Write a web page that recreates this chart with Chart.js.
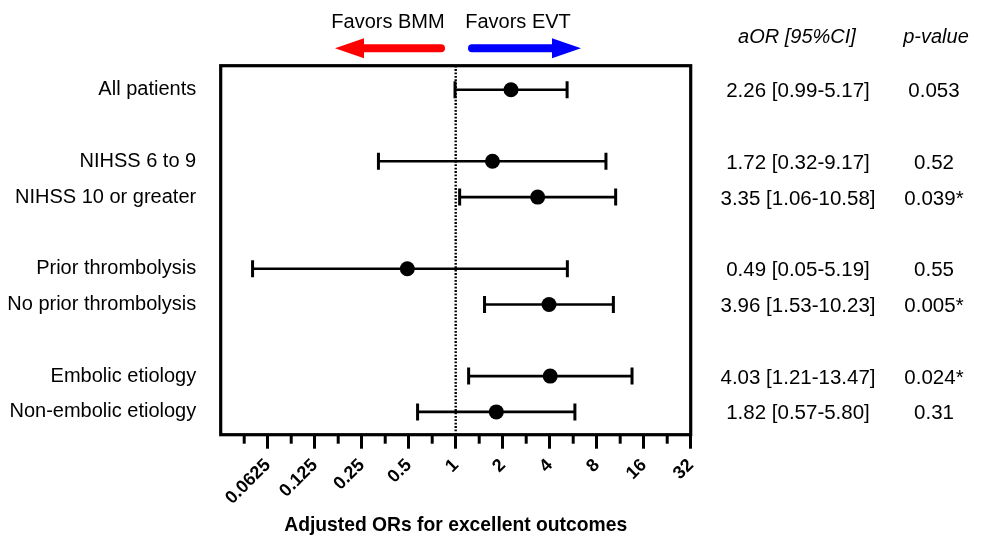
<!DOCTYPE html>
<html><head><meta charset="utf-8">
<script src="https://cdn.jsdelivr.net/npm/chart.js@4/dist/chart.umd.min.js"></script>
<style>html,body{margin:0;padding:0;background:#fff;}#wrap{width:981px;height:539px;}</style>
</head><body><div id="wrap"><canvas id="c" width="981" height="539"></canvas></div>
<script>
const categories = ["All patients","NIHSS 6 to 9","NIHSS 10 or greater","Prior thrombolysis","No prior thrombolysis","Embolic etiology","Non-embolic etiology"];
const rowSlots = [0,2,3,5,6,8,9];
const oddsRatio = [2.26,1.72,3.35,0.49,3.96,4.03,1.82];
const ciLower = [0.99,0.32,1.06,0.05,1.53,1.21,0.57];
const ciUpper = [5.17,9.17,10.58,5.19,10.23,13.47,5.80];
const aorText = ["2.26 [0.99-5.17]","1.72 [0.32-9.17]","3.35 [1.06-10.58]","0.49 [0.05-5.19]","3.96 [1.53-10.23]","4.03 [1.21-13.47]","1.82 [0.57-5.80]"];
const pValues = ["0.053","0.52","0.039*","0.55","0.005*","0.024*","0.31"];
const xTicks = [0.0625,0.125,0.25,0.5,1,2,4,8,16,32];
const xTickLabels = ["0.0625","0.125","0.25","0.5","1","2","4","8","16","32"];
const xMinorTicks = [0.0442,0.0884,0.1768,0.3536,0.7071,1.4142,2.8284,5.6569,11.3137,22.6274];
const xMin = 0.03125, xMax = 32;
const yMin = -0.670, yMax = 9.637;

const FONT = "'Liberation Sans', Arial, sans-serif";

const forestPlugin = {
  id: 'forest',
  beforeDatasetsDraw(chart) {
    const ctx = chart.ctx, xs = chart.scales.x, ys = chart.scales.y, ca = chart.chartArea;
    ctx.save();
    const x1 = xs.getPixelForValue(1);
    ctx.strokeStyle = '#000'; ctx.lineWidth = 2.4; ctx.setLineDash([1.8,1.6]);
    ctx.beginPath(); ctx.moveTo(x1, ca.top); ctx.lineTo(x1, ca.bottom); ctx.stroke();
    ctx.setLineDash([]);
    for (let i = 0; i < oddsRatio.length; i++) {
      const y = ys.getPixelForValue(rowSlots[i]);
      const a = xs.getPixelForValue(ciLower[i]), b = xs.getPixelForValue(ciUpper[i]);
      ctx.lineWidth = 2.6;
      ctx.beginPath(); ctx.moveTo(a, y); ctx.lineTo(b, y); ctx.stroke();
      ctx.lineWidth = 3;
      ctx.beginPath(); ctx.moveTo(a, y - 8.5); ctx.lineTo(a, y + 8.5);
      ctx.moveTo(b, y - 8.5); ctx.lineTo(b, y + 8.5); ctx.stroke();
    }
    ctx.restore();
  },
  afterDatasetsDraw(chart) {
    const ctx = chart.ctx, ca = chart.chartArea;
    ctx.save();
    ctx.strokeStyle = '#000'; ctx.lineWidth = 3.2;
    ctx.strokeRect(ca.left, ca.top, ca.right - ca.left, ca.bottom - ca.top);
    ctx.restore();
  },
  afterDraw(chart) {
    const ctx = chart.ctx, xs = chart.scales.x, ys = chart.scales.y, ca = chart.chartArea;
    ctx.save();
    ctx.strokeStyle = '#000'; ctx.lineWidth = 3;
    for (const v of xMinorTicks) {
      const px = xs.getPixelForValue(v);
      ctx.beginPath(); ctx.moveTo(px, ca.bottom); ctx.lineTo(px, ca.bottom + 9); ctx.stroke();
    }
    ctx.fillStyle = '#000';
    ctx.textAlign = 'center'; ctx.textBaseline = 'alphabetic';
    ctx.font = "italic 20px " + FONT;
    ctx.fillText('aOR [95%CI]', 797, 43);
    ctx.fillText('p-value', 936, 43);
    ctx.font = "20.5px " + FONT;
    for (let i = 0; i < aorText.length; i++) {
      const y = ys.getPixelForValue(rowSlots[i]) + 7.5;
      ctx.fillText(aorText[i], 798, y);
      ctx.fillText(pValues[i], 934, y);
    }
    ctx.font = "20px " + FONT;
    ctx.fillText('Favors BMM', 388, 28);
    ctx.fillText('Favors EVT', 518, 28);
    const ay = 48.3;
    ctx.lineCap = 'round'; ctx.lineWidth = 8;
    ctx.strokeStyle = '#ff0000'; ctx.fillStyle = '#ff0000';
    ctx.beginPath(); ctx.moveTo(441, ay); ctx.lineTo(360, ay); ctx.stroke();
    ctx.beginPath(); ctx.moveTo(335, ay); ctx.lineTo(364, ay - 10); ctx.lineTo(364, ay + 10); ctx.closePath(); ctx.fill();
    ctx.strokeStyle = '#0000ff'; ctx.fillStyle = '#0000ff';
    ctx.beginPath(); ctx.moveTo(472, ay); ctx.lineTo(556, ay); ctx.stroke();
    ctx.beginPath(); ctx.moveTo(581, ay); ctx.lineTo(552, ay - 10); ctx.lineTo(552, ay + 10); ctx.closePath(); ctx.fill();
    ctx.restore();
  }
};

new Chart(document.getElementById('c'), {
  type: 'scatter',
  data: {
    datasets: [{
      data: oddsRatio.map((v, i) => ({ x: v, y: rowSlots[i] })),
      pointRadius: 7.5, pointHoverRadius: 7.5,
      backgroundColor: '#000', borderColor: '#000', borderWidth: 0
    }]
  },
  options: {
    responsive: false, animation: false, events: [],
    layout: { padding: { left: 0, right: 290.3, top: 65.7, bottom: 0 } },
    plugins: { legend: { display: false }, tooltip: { enabled: false } },
    scales: {
      x: {
        type: 'logarithmic', min: xMin, max: xMax, position: 'bottom',
        afterBuildTicks: s => { s.ticks = xTicks.map(v => ({ value: v })); },
        afterFit: s => { s.height = 104.3; },
        ticks: {
          autoSkip: false, maxRotation: 45, minRotation: 45, padding: 6, color: '#000',
          font: { family: FONT, size: 18, weight: 'bold' },
          callback: (v) => { const i = xTicks.indexOf(v); return i >= 0 ? xTickLabels[i] : ''; }
        },
        grid: { display: true, drawOnChartArea: false, drawTicks: true, tickLength: 14, tickWidth: 3, tickColor: '#000' },
        border: { display: false },
        title: { display: true, text: 'Adjusted ORs for excellent outcomes', color: '#000',
          font: { family: FONT, size: 19.3, weight: 'bold' }, padding: { top: 4, bottom: 2 } }
      },
      y: {
        type: 'linear', min: yMin, max: yMax, reverse: true,
        afterBuildTicks: s => { s.ticks = rowSlots.map(v => ({ value: v })); },
        afterFit: s => { s.width = 220.7; },
        ticks: {
          autoSkip: false, padding: 24.5, color: '#000',
          font: { family: FONT, size: 20 },
          callback: (v) => { const i = rowSlots.indexOf(v); return i >= 0 ? categories[i] : ''; }
        },
        grid: { display: false, drawTicks: false },
        border: { display: false }
      }
    }
  },
  plugins: [forestPlugin]
});
</script>
</body></html>
